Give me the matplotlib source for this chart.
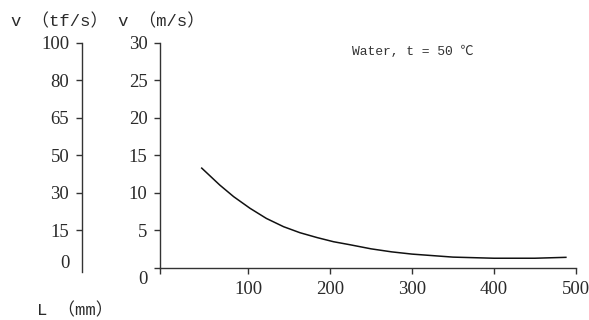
import matplotlib
matplotlib.use("Agg")
import matplotlib.pyplot as plt
import matplotlib.transforms as mtransforms

# ---- data ----
L_mm = [43, 65, 82, 102, 122, 143, 163, 184, 204, 224, 250, 275, 300, 350, 400, 450, 488]
v_ms = [13.3, 11.05, 9.5, 7.95, 6.6, 5.5, 4.7, 4.05, 3.5, 3.1, 2.55, 2.15, 1.85, 1.45, 1.3, 1.3, 1.42]

x_ticks = [100, 200, 300, 400, 500]
y_ticks = [0, 5, 10, 15, 20, 25, 30]
tf_ticks = [5, 10, 15, 20, 25, 30]
tf_labels = ["15", "30", "50", "65", "80", "100"]

SERIF = ["Liberation Serif", "Noto Sans CJK SC", "DejaVu Sans"]
MONO = ["Liberation Mono", "Noto Sans CJK SC", "DejaVu Sans"]
plt.rcParams["font.family"] = SERIF
AX_COL = "#333333"
TXT_COL = "#2a2a2a"

W, H = 589, 320
fig = plt.figure(figsize=(W / 100, H / 100), dpi=100)


def px(x0, y0, x1, y1):
    # pixel box (top-left origin) -> figure fraction rect
    return [x0 / W, (H - y1) / H, (x1 - x0) / W, (y1 - y0) / H]


# main axes: v (m/s) vs L (mm)
ax = fig.add_axes(px(160, 42.7, 575.7, 268))
ax.plot(L_mm, v_ms, color="#111111", lw=1.1)
ax.set_xlim(-8, 500)
ax.set_ylim(0, 30)
for s in ("top", "right"):
    ax.spines[s].set_visible(False)
for s in ("left", "bottom"):
    ax.spines[s].set_color(AX_COL)
    ax.spines[s].set_linewidth(1.0)
ax.set_xticks([-8] + x_ticks)
ax.set_xticklabels([""] + [str(t) for t in x_ticks])
ax.set_yticks(y_ticks)
ax.set_yticklabels([str(t) for t in y_ticks])
ax.tick_params(axis="both", colors=AX_COL, labelcolor=TXT_COL, labelsize=13.5,
               length=4, width=1.0, pad=5)

# origin "0" sits a little lower than its tick
off = mtransforms.ScaledTranslation(0, -10 / 100, fig.dpi_scale_trans)
zero_lab = ax.get_yticklabels()[0]
zero_lab.set_transform(zero_lab.get_transform() + off)

# second scale: v (tf/s), only a vertical line with ticks
ax2 = fig.add_axes(px(81.7, 42.7, 82.7, 271.7))
ax2.set_ylim(-0.5, 30)
ax2.set_xticks([])
for s in ("top", "right", "bottom"):
    ax2.spines[s].set_visible(False)
ax2.spines["left"].set_color(AX_COL)
ax2.spines["left"].set_linewidth(1.0)
ax2.patch.set_visible(False)
ax2.set_yticks([0.8] + tf_ticks)
ax2.set_yticklabels(["0"] + tf_labels)
ax2.tick_params(axis="y", colors=AX_COL, labelcolor=TXT_COL, labelsize=13.5,
                length=4, width=1.0, pad=5)
ax2.yaxis.get_major_ticks()[0].tick1line.set_visible(False)

# axis titles and annotation
fig.text(11 / W, (H - 26) / H, "v （tf/s） v （m/s）", fontsize=12.4,
         family=MONO, color=TXT_COL, va="baseline", ha="left")
fig.text(37 / W, (H - 315) / H, "L （mm）", fontsize=12.4,
         family=MONO, color=TXT_COL, va="baseline", ha="left")
fig.text(352 / W, (H - 55) / H, "Water, t = 50 ℃", fontsize=9.4,
         family=MONO, color="#333333", va="baseline", ha="left")

fig.savefig("out.png", dpi=100)
